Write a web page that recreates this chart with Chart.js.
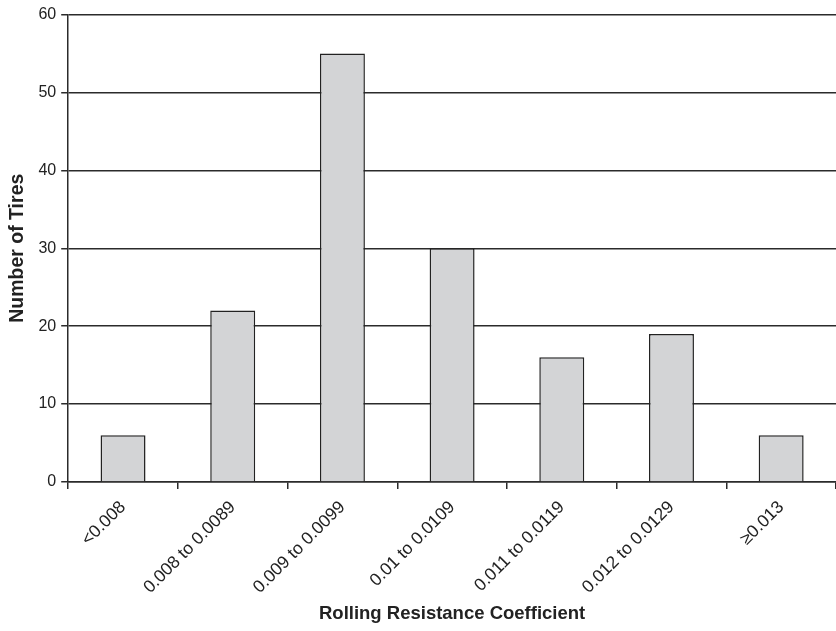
<!DOCTYPE html>
<html lang="en">
<head>
    <meta charset="UTF-8">
    <title>Rolling Resistance Coefficient</title>
    <script src="https://cdn.jsdelivr.net/npm/chart.js"></script>
    <style>
        html, body {
            margin: 0;
            padding: 0;
            background: #fff;
            overflow: hidden;
        }
        .wrap {
            width: 836px;
            height: 631px;
        }
    </style>
</head>
<body>
    <div class="wrap"><canvas id="tireChart"></canvas></div>
    <script>
        const categories = ['<0.008', '0.008 to 0.0089', '0.009 to 0.0099', '0.01 to 0.0109', '0.011 to 0.0119', '0.012 to 0.0129', '\u22650.013'];
        const tireCounts = [6, 22, 55, 30, 16, 19, 6];
        const yTicks = [0, 10, 20, 30, 40, 50, 60];

        const fontFamily = '"Liberation Sans", Arial, Helvetica, sans-serif';
        const lineColor = '#2b2b2b';

        const ctx = document.getElementById('tireChart').getContext('2d');
        new Chart(ctx, {
            type: 'bar',
            data: {
                labels: categories,
                datasets: [{
                    label: 'Number of Tires',
                    data: tireCounts,
                    backgroundColor: '#d3d4d6',
                    borderColor: '#222',
                    borderWidth: 1.5,
                    categoryPercentage: 1,
                    barPercentage: 0.41
                }]
            },
            options: {
                responsive: true,
                maintainAspectRatio: false,
                animation: false,
                layout: { padding: { top: 4, right: 0, left: 2, bottom: 6 } },
                plugins: {
                    legend: { display: false },
                    tooltip: { enabled: false }
                },
                scales: {
                    x: {
                        offset: true,
                        grid: { offset: true, drawOnChartArea: false, drawTicks: true, tickLength: 7, color: lineColor, lineWidth: 1.5 },
                        border: { display: true, color: lineColor, width: 1.5 },
                        ticks: { color: '#222', font: { family: fontFamily, size: 17.5 }, minRotation: 45, maxRotation: 45, padding: 8 },
                        title: { display: true, text: 'Rolling Resistance Coefficient', color: '#222', font: { family: fontFamily, size: 18.5, weight: 'bold' }, padding: { top: -3, bottom: 0 } }
                    },
                    y: {
                        min: 0,
                        max: 60,
                        afterBuildTicks: axis => { axis.ticks = yTicks.map(v => ({ value: v })); },
                        grid: { color: lineColor, lineWidth: 1.5, tickLength: 7 },
                        border: { display: true, color: lineColor, width: 1.5 },
                        ticks: { color: '#222', font: { family: fontFamily, size: 16 }, padding: 5 },
                        title: { display: true, text: 'Number of Tires', color: '#222', font: { family: fontFamily, size: 19.5, weight: 'bold' }, padding: { bottom: 4 } }
                    }
                }
            }
        });
    </script>
</body>
</html>
